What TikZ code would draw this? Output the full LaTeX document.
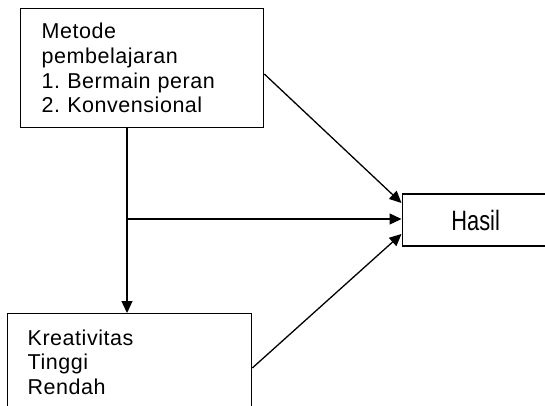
\documentclass[tikz,border=0pt]{standalone}
\usepackage{fontspec}
\usepackage{graphicx}
\setmainfont{Liberation Sans}[LetterSpace=2.5]
\newfontfamily\hasilfont{Liberation Sans}
\usetikzlibrary{arrows.meta}
\frenchspacing
\begin{document}
\begin{tikzpicture}[x=1pt,y=-1pt,
  box/.style={draw=black,line width=1.3pt,rectangle,font=\fontsize{21.5}{24.7}\selectfont},
  conn/.style={draw=black,line width=1.3pt,-{Triangle[length=12pt,width=11pt]}}]
\useasboundingbox (0,0) rectangle (545,406);
\clip (0,0) rectangle (545,406);
\node[box,anchor=north west,minimum width=243pt,minimum height=119pt,
      text width=201pt,inner xsep=21pt,align=left] (metode) at (20,8)
  {Metode\\pembelajaran\\1. Bermain peran\\2. Konvensional};
\node[box,anchor=north west,minimum width=244pt,
      text width=204pt,inner xsep=20pt,inner ysep=16pt,align=left] (kreat) at (7,313)
  {Kreativitas\\Tinggi\\Rendah};
\node[box,anchor=west,minimum width=147pt,minimum height=52pt,inner sep=0pt] (hasil) at (401.5,220)
  {\hasilfont\fontsize{28}{30}\selectfont\scalebox{0.78}[1]{Hasil}};
\coordinate (j) at (127,219);
\draw[conn] (metode.south -| j) -- (kreat.north -| j);
\draw[conn] (j) -- (hasil.west |- j);
\draw[conn] (metode.east |- 0,74) -- (hasil.west |- 0,203);
\draw[conn] (kreat.east |- 0,368) -- (hasil.west |- 0,234);
\end{tikzpicture}
\end{document}
